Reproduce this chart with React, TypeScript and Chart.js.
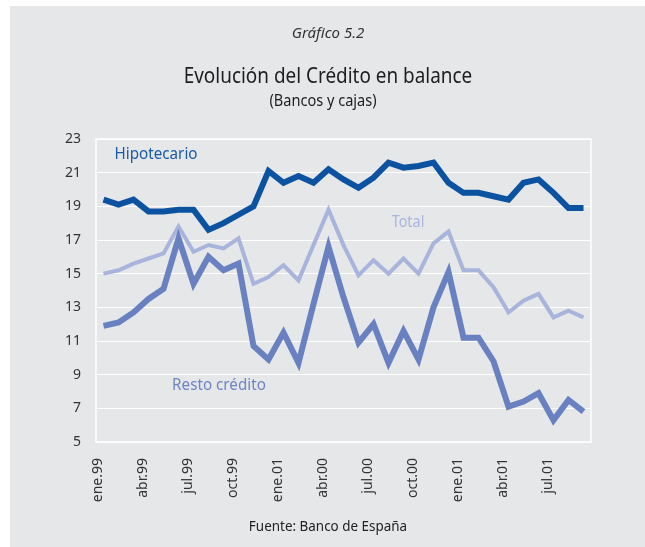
import React, { useEffect, useRef } from "react";
import { Chart, registerables } from "chart.js";

Chart.register(...registerables);

const months = [
  "ene.99", "feb.99", "mar.99", "abr.99", "may.99", "jun.99", "jul.99", "ago.99", "sep.99", "oct.99", "nov.99", "dic.99",
  "ene.00", "feb.00", "mar.00", "abr.00", "may.00", "jun.00", "jul.00", "ago.00", "sep.00", "oct.00", "nov.00", "dic.00",
  "ene.01", "feb.01", "mar.01", "abr.01", "may.01", "jun.01", "jul.01", "ago.01", "sep.01",
];

const tickLabels = [
  "ene.99", "abr.99", "jul.99", "oct.99", "ene.01", "abr.00", "jul.00", "oct.00", "ene.01", "abr.01", "jul.01",
];

const hipotecario = [
  19.4, 19.1, 19.4, 18.7, 18.7, 18.8, 18.8, 17.6, 18.0, 18.5, 19.0, 21.1,
  20.4, 20.8, 20.4, 21.2, 20.6, 20.1, 20.7, 21.6, 21.3, 21.4, 21.6, 20.4,
  19.8, 19.8, 19.6, 19.4, 20.4, 20.6, 19.8, 18.9, 18.9,
];

const total = [
  15.0, 15.2, 15.6, 15.9, 16.2, 17.8, 16.3, 16.7, 16.5, 17.1, 14.4, 14.8,
  15.5, 14.6, 16.7, 18.8, 16.7, 14.9, 15.8, 15.0, 15.9, 15.0, 16.8, 17.5,
  15.2, 15.2, 14.2, 12.7, 13.4, 13.8, 12.4, 12.8, 12.4,
];

const resto = [
  11.9, 12.1, 12.7, 13.5, 14.1, 17.1, 14.4, 16.0, 15.2, 15.6, 10.7, 9.9,
  11.5, 9.7, 13.2, 16.6, 13.6, 10.9, 12.0, 9.7, 11.6, 9.9, 13.0, 15.1,
  11.2, 11.2, 9.8, 7.1, 7.4, 7.9, 6.3, 7.5, 6.8,
];

const FONT = "'Noto Sans', 'Open Sans', sans-serif";

const framePlugin = {
  id: "frame",
  beforeDatasetsDraw(chart: any) {
    const { ctx, chartArea } = chart;
    const { left, top, right, bottom } = chartArea;
    ctx.save();
    ctx.strokeStyle = "#ffffff";
    ctx.lineWidth = 1.5;
    ctx.strokeRect(left, top, right - left, bottom - top);
    ctx.restore();
  },
};

function Label(props: { x: number; y: number; text: string; size: number; color: string; italic?: boolean; sx?: number; weight?: number }) {
  const { x, y, text, size, color, italic, sx = 1, weight = 400 } = props;
  return (
    <div
      style={{
        position: "absolute",
        left: x,
        top: y,
        transform: `translate(-50%, -50%) scaleX(${sx})`,
        whiteSpace: "nowrap",
        fontFamily: FONT,
        fontSize: size,
        fontStyle: italic ? "italic" : "normal",
        fontWeight: weight,
        color,
        lineHeight: 1,
      }}
    >
      {text}
    </div>
  );
}

export default function App() {
  const ref = useRef<HTMLCanvasElement | null>(null);

  useEffect(() => {
    if (!ref.current) return;
    const chart = new Chart(ref.current, {
      type: "line",
      data: {
        labels: months,
        datasets: [
          { label: "Hipotecario", data: hipotecario, borderColor: "#0b53a1", borderWidth: 6 },
          { label: "Resto crédito", data: resto, borderColor: "#6a81c1", borderWidth: 6 },
          { label: "Total", data: total, borderColor: "#a8b4db", borderWidth: 4 },
        ],
      },
      options: {
        animation: false,
        responsive: false,
        layout: { padding: { left: 0, top: 139, right: 54, bottom: 0 } },
        plugins: { legend: { display: false }, tooltip: { enabled: false } },
        elements: { point: { radius: 0 }, line: { tension: 0, borderJoinStyle: "miter" } },
        scales: {
          x: {
            offset: true,
            grid: { display: false, drawTicks: false },
            border: { display: false },
            ticks: {
              autoSkip: false,
              maxRotation: 90,
              minRotation: 90,
              padding: 16,
              labelOffset: -5,
              color: "#333333",
              font: { family: FONT, size: 14 },
              callback: (_v: any, i: number) => (i % 3 === 0 ? tickLabels[i / 3] : ""),
            },
            afterFit: (s: any) => {
              s.height = 105;
            },
          },
          y: {
            min: 5,
            max: 23,
            ticks: {
              stepSize: 2,
              padding: 15,
              color: "#333333",
              font: { family: FONT, size: 14 },
            },
            grid: { color: "#ffffff", lineWidth: 1, drawTicks: false },
            border: { display: false },
            afterFit: (s: any) => {
              s.width = 96;
            },
          },
        },
      },
      plugins: [framePlugin],
    } as any);
    return () => chart.destroy();
  }, []);

  return (
    <div style={{ position: "absolute", left: 0, top: 0, width: 645, height: 547, background: "#ffffff", overflow: "hidden" }}>
      <div style={{ position: "absolute", left: 10, top: 6, width: 635, height: 541, background: "#e6e7e9" }} />
      <canvas ref={ref} width={645} height={547} style={{ position: "absolute", left: 0, top: 0, width: 645, height: 547 }} />
      <Label x={328} y={32} text="Gráfico 5.2" size={15} color="#333333" italic />
      <Label x={327.5} y={74} text="Evolución del Crédito en balance" size={22} color="#1e1e1e" sx={0.86} />
      <Label x={322.5} y={100} text="(Bancos y cajas)" size={16} color="#1e1e1e" sx={0.91} />
      <Label x={156} y={153} text="Hipotecario" size={16} color="#1a5aa6" sx={0.95} />
      <Label x={407.5} y={221} text="Total" size={16} color="#a9b5dc" sx={0.9} />
      <Label x={218.5} y={384} text="Resto crédito" size={16} color="#6e84c4" sx={0.95} />
      <Label x={327.5} y={526} text="Fuente: Banco de España" size={14} color="#222222" sx={0.96} />
    </div>
  );
}
